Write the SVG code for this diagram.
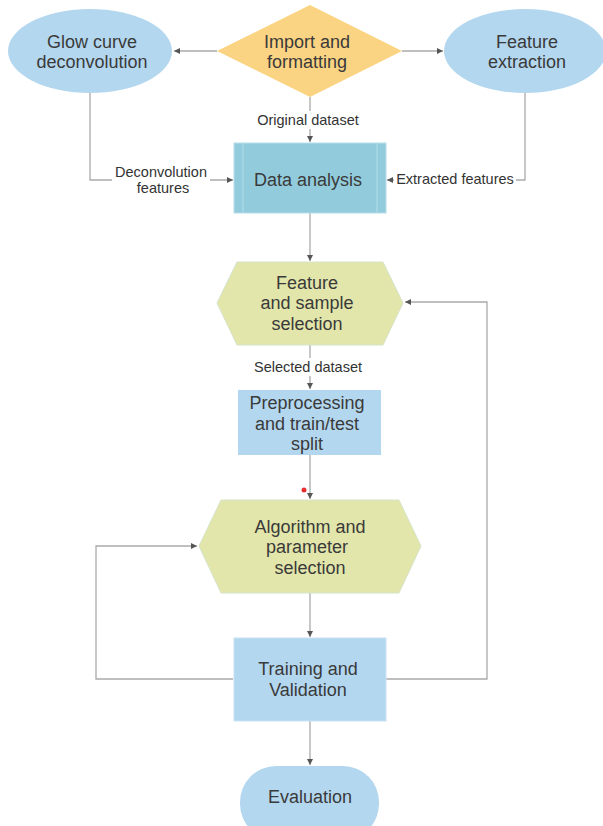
<svg xmlns="http://www.w3.org/2000/svg" width="603" height="826" viewBox="0 0 603 826">
<defs>
<marker id="arr" markerWidth="8" markerHeight="8" refX="6" refY="3.5" orient="auto" markerUnits="userSpaceOnUse">
<path d="M0,0.5 L6,3.5 L0,6.5 Z" fill="#555"/>
</marker>
<style>
.t{font-family:"Liberation Sans",Arial,sans-serif;font-size:18px;fill:#3a3a3a;text-anchor:middle}
.l{font-family:"Liberation Sans",Arial,sans-serif;font-size:14.5px;fill:#333;text-anchor:middle}
.c{fill:none;stroke:#aaa;stroke-width:1.3}
.blue{fill:#b3d7ef}
.hex{fill:#e2e6aa;stroke:#d6e3c8;stroke-width:1}
</style>
</defs>
<rect width="603" height="826" fill="#fff"/>
<g id="connectors">
<path class="c" d="M217,51 L174,51" marker-end="url(#arr)"/>
<path class="c" d="M402,51 L443,51" marker-end="url(#arr)"/>
<path class="c" d="M310,97 L310,142" marker-end="url(#arr)"/>
<path class="c" d="M90,93 L90,180 L233,180" marker-end="url(#arr)"/>
<path class="c" d="M525,93 L525,180 L387,180" marker-end="url(#arr)"/>
<path class="c" d="M310,213 L310,261" marker-end="url(#arr)"/>
<path class="c" d="M310,345 L310,389" marker-end="url(#arr)"/>
<path class="c" d="M310,455 L310,499" marker-end="url(#arr)"/>
<path class="c" d="M310,593 L310,637" marker-end="url(#arr)"/>
<path class="c" d="M233,679 L96,679 L96,546 L197,546" marker-end="url(#arr)"/>
<path class="c" d="M386,679 L487,679 L487,302 L405,302" marker-end="url(#arr)"/>
<path class="c" d="M310,721 L310,765" marker-end="url(#arr)"/>
<rect x="254" y="111" width="108" height="18" fill="#fff"/>
<text class="l" x="308" y="125">Original dataset</text>
<rect x="112" y="162" width="98" height="34" fill="#fff"/>
<text class="l" x="161" y="177">Deconvolution</text>
<text class="l" x="163" y="193">features</text>
<rect x="394" y="171" width="122" height="18" fill="#fff"/>
<text class="l" x="455" y="184">Extracted features</text>
<rect x="252" y="358" width="114" height="18" fill="#fff"/>
<text class="l" x="308" y="372">Selected dataset</text>
</g>
<g id="glow">
<ellipse class="blue" cx="90" cy="51" rx="82" ry="42"/>
<text class="t" x="92" y="48">Glow curve</text>
<text class="t" x="92" y="68">deconvolution</text>
</g>
<g id="import">
<polygon points="310,5 402,51 310,97 217,51" fill="#fad482"/>
<text class="t" x="307" y="48">Import and</text>
<text class="t" x="307" y="68">formatting</text>
</g>
<g id="featext">
<ellipse class="blue" cx="525" cy="51" rx="81" ry="42"/>
<text class="t" x="527" y="48">Feature</text>
<text class="t" x="527" y="68">extraction</text>
</g>
<g id="data">
<rect x="234" y="143" width="152" height="70" fill="#92ccdc" stroke="#b5dde8" stroke-width="1"/>
<line x1="243" y1="143" x2="243" y2="213" stroke="#b5dde8"/>
<line x1="377" y1="143" x2="377" y2="213" stroke="#b5dde8"/>
<text class="t" x="308" y="186">Data analysis</text>
</g>
<g id="featsel">
<polygon class="hex" points="217,303 237,262 383,262 403,303 383,345 237,345"/>
<text class="t" x="307" y="289">Feature</text>
<text class="t" x="307" y="309">and sample</text>
<text class="t" x="307" y="330">selection</text>
</g>
<g id="prep">
<rect class="blue" x="238" y="390" width="143" height="65"/>
<text class="t" x="307" y="409">Preprocessing</text>
<text class="t" x="307" y="430">and train/test</text>
<text class="t" x="307" y="450">split</text>
</g>
<circle cx="304" cy="490" r="2.5" fill="#e53030"/>
<g id="algo">
<polygon class="hex" points="199,546 221,500 399,500 421,546 399,593 221,593"/>
<text class="t" x="310" y="533">Algorithm and</text>
<text class="t" x="307" y="553">parameter</text>
<text class="t" x="310" y="574">selection</text>
</g>
<g id="train">
<rect class="blue" x="234" y="638" width="152" height="83" stroke="#c9e2f2" stroke-width="1"/>
<text class="t" x="308" y="675">Training and</text>
<text class="t" x="308" y="696">Validation</text>
</g>
<g id="eval">
<rect class="blue" x="240" y="766" width="139" height="74" rx="36" ry="36"/>
<text class="t" x="310" y="803">Evaluation</text>
</g>
</svg>
